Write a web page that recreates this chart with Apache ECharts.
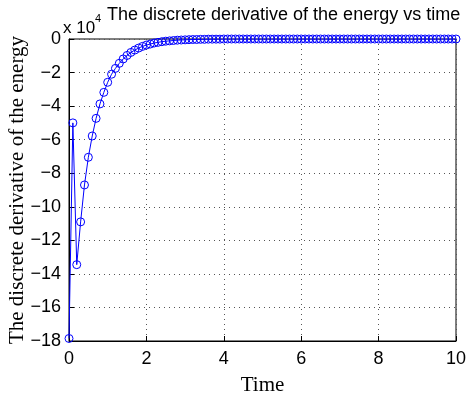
<!DOCTYPE html>
<html>
<head>
<meta charset="utf-8">
<script src="https://cdn.jsdelivr.net/npm/echarts@6/dist/echarts.min.js"></script>
<style>
  html, body { margin: 0; padding: 0; background: #fff; }
  #chart { width: 470px; height: 393px; }
</style>
</head>
<body>
<div id="chart"></div>
<script>
// time samples (s)
const time = [
  0, 0.1, 0.2, 0.3, 0.4, 0.5, 0.6, 0.7, 0.8, 0.9,
  1, 1.1, 1.2, 1.3, 1.4, 1.5, 1.6, 1.7, 1.8, 1.9,
  2, 2.1, 2.2, 2.3, 2.4, 2.5, 2.6, 2.7, 2.8, 2.9,
  3, 3.1, 3.2, 3.3, 3.4, 3.5, 3.6, 3.7, 3.8, 3.9,
  4, 4.1, 4.2, 4.3, 4.4, 4.5, 4.6, 4.7, 4.8, 4.9,
  5, 5.1, 5.2, 5.3, 5.4, 5.5, 5.6, 5.7, 5.8, 5.9,
  6, 6.1, 6.2, 6.3, 6.4, 6.5, 6.6, 6.7, 6.8, 6.9,
  7, 7.1, 7.2, 7.3, 7.4, 7.5, 7.6, 7.7, 7.8, 7.9,
  8, 8.1, 8.2, 8.3, 8.4, 8.5, 8.6, 8.7, 8.8, 8.9,
  9, 9.1, 9.2, 9.3, 9.4, 9.5, 9.6, 9.7, 9.8, 9.9,
  10
];

// discrete derivative of the energy, in units of 1e4
const dEnergy = [
  -17.85, -5.0, -13.45, -10.9, -8.7, -7.05, -5.78, -4.73, -3.87, -3.18,
  -2.58, -2.1, -1.75, -1.45, -1.19, -0.98, -0.80, -0.66, -0.54, -0.44,
  -0.36, -0.30, -0.24, -0.20, -0.16, -0.13, -0.11, -0.09, -0.07, -0.06,
  -0.05, -0.04, -0.03, -0.03, -0.02, -0.02, -0.01, -0.01, -0.01, -0.01,
  0, 0, 0, 0, 0, 0, 0, 0, 0, 0,
  0, 0, 0, 0, 0, 0, 0, 0, 0, 0,
  0, 0, 0, 0, 0, 0, 0, 0, 0, 0,
  0, 0, 0, 0, 0, 0, 0, 0, 0, 0,
  0, 0, 0, 0, 0, 0, 0, 0, 0, 0,
  0, 0, 0, 0, 0, 0, 0, 0, 0, 0,
  0
];

const xTicks = [0, 2, 4, 6, 8, 10];
const yTicks = [-18, -16, -14, -12, -10, -8, -6, -4, -2, 0];

const chart = echarts.init(document.getElementById('chart'));

const axisFont = 'Liberation Sans, Arial, sans-serif';
const serifFont = 'Liberation Serif, Times New Roman, serif';

const points = time.map((t, i) => [t, dEnergy[i]]);

const option = {
  animation: false,
  backgroundColor: '#fff',
  grid: {
    left: 69,
    right: 14,
    top: 39,
    bottom: 52,
    outerBoundsMode: 'none',
    show: true,
    borderColor: '#000',
    borderWidth: 1
  },
  graphic: [
    {
      type: 'text',
      left: 107,
      top: 6,
      style: {
        text: 'The discrete derivative of the energy vs time',
        fontSize: 18,
        fontFamily: axisFont,
        fill: '#000'
      }
    },
    // axis multiplier "x 10^4"
    {
      type: 'text',
      left: 63,
      top: 20,
      style: { text: 'x 10', fontSize: 17, fontFamily: axisFont, fill: '#000' }
    },
    {
      type: 'text',
      left: 95,
      top: 13,
      style: { text: '4', fontSize: 11, fontFamily: axisFont, fill: '#000' }
    }
  ],
  xAxis: {
    type: 'value',
    min: 0,
    max: 10,
    interval: 2,
    name: 'Time',
    nameLocation: 'middle',
    nameGap: 34,
    nameMoveOverlap: false,
    nameTextStyle: { fontFamily: serifFont, fontSize: 21, color: '#000' },
    axisLine: { show: true, onZero: false, lineStyle: { color: '#000', width: 1 } },
    axisTick: { show: true, inside: true, length: 5, lineStyle: { color: '#000' } },
    axisLabel: {
      fontFamily: axisFont, fontSize: 18, color: '#000', margin: 9,
      customValues: xTicks
    },
    splitLine: { show: true, lineStyle: { color: '#555', type: [1, 4], width: 1 } }
  },
  yAxis: {
    type: 'value',
    min: -18,
    max: 0,
    interval: 2,
    name: 'The discrete derivative of the energy',
    nameLocation: 'middle',
    nameGap: 41,
    nameMoveOverlap: false,
    nameTextStyle: { fontFamily: serifFont, fontSize: 21, color: '#000' },
    axisLine: { show: true, onZero: false, lineStyle: { color: '#000', width: 1 } },
    axisTick: { show: true, inside: true, length: 5, lineStyle: { color: '#000' } },
    axisLabel: {
      fontFamily: axisFont, fontSize: 18, color: '#000', margin: 8,
      customValues: yTicks,
      formatter: v => (v < 0 ? '\u2212' + Math.abs(v) : String(v))
    },
    splitLine: { show: true, lineStyle: { color: '#555', type: [1, 4], width: 1 } }
  },
  series: [
    {
      type: 'line',
      data: points,
      symbol: 'circle',
      symbolSize: 8,
      showAllSymbol: true,
      lineStyle: { color: '#0000ff', width: 1 },
      itemStyle: { color: 'rgba(0,0,0,0)', borderColor: '#0000ff', borderWidth: 1 },
      emphasis: { disabled: true },
      z: 3
    }
  ]
};

chart.setOption(option);
</script>
</body>
</html>
